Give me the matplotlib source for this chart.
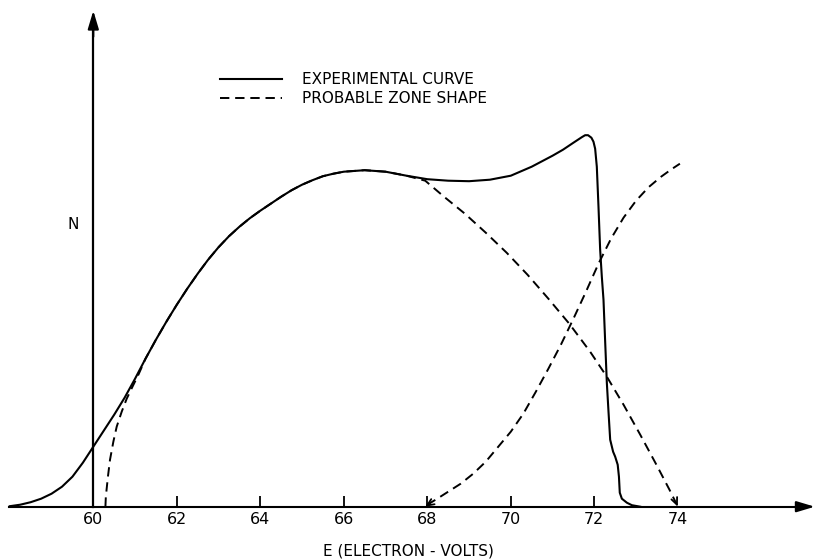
import numpy as np
import matplotlib.pyplot as plt

# experimental curve (E in eV, N in arbitrary units)
energy_exp = [58.0, 58.25, 58.5, 58.75, 59.0, 59.25, 59.5, 59.75, 60.0, 60.25, 60.5, 60.75,
              61.0, 61.25, 61.5, 61.75, 62.0, 62.25, 62.5, 62.75, 63.0, 63.25, 63.5, 63.75,
              64.0, 64.25, 64.5, 64.75, 65.0, 65.25, 65.5, 65.75, 66.0, 66.5, 67.0, 67.5,
              68.0, 68.5, 69.0, 69.5, 70.0, 70.5, 71.0, 71.25, 71.5, 71.7, 71.78, 71.85,
              71.93, 71.98, 72.02, 72.06, 72.10, 72.14, 72.18, 72.22, 72.26, 72.30, 72.34,
              72.38, 72.45, 72.5, 72.56, 72.59, 72.61, 72.66, 72.78, 72.9, 73.1]
n_exp = [0.5, 2, 4.5, 8, 13, 20, 30, 44, 60, 76, 92, 109,
         128, 148, 167, 185, 202, 218, 233, 247, 259.5, 270.5, 280, 288.5,
         296, 303, 310, 316.5, 322, 326.5, 330.5, 333, 335, 336.5, 335, 331,
         327.5, 326, 325.5, 327, 331, 340, 351, 357, 364, 369.5, 371.5, 371.5,
         369, 365, 358, 340, 300, 257, 230, 207, 165, 124, 95,
         67, 55, 50, 42, 30, 14, 8, 4, 1.5, 0]

# probable zone shapes
energy_zone1 = [60.29, 60.3, 60.35, 60.4, 60.48, 60.56, 60.68, 60.8, 60.95, 61.08,
                61.25, 61.5, 61.75, 62.0, 62.25, 62.5, 62.75, 63.0, 63.25, 63.5, 63.75,
                64.0, 64.25, 64.5, 64.75, 65.0, 65.25, 65.5, 65.75, 66.0, 66.5, 67.0,
                67.5, 67.95, 68.4, 68.9, 69.4, 69.9, 70.4, 70.9, 71.4, 71.9, 72.3, 72.7,
                73.1, 73.5, 73.8, 73.96]
n_zone1 = [0, 10, 30, 47, 65, 80, 95, 108, 121, 132,
           148, 167, 185, 202, 218, 233, 247, 259.5, 270.5, 280, 288.5,
           296, 303, 310, 316.5, 322, 326.5, 330.5, 333, 335, 336.5, 335,
           331, 326, 310, 293, 274, 254, 232, 208, 183, 155, 130, 102,
           72, 41, 17, 3.5]

energy_zone2 = [68.0, 68.2, 68.5, 68.8, 69.1, 69.4, 69.7, 70.0, 70.3, 70.6, 70.9, 71.2,
                71.5, 71.8, 72.1, 72.4, 72.7, 73.0, 73.3, 73.6, 73.85, 74.05]
n_zone2 = [2, 7, 15, 23, 33, 45, 60, 75, 93, 115, 138, 162,
           188, 215, 243, 268, 289, 306, 319.5, 330, 337.5, 343]

xticks = [60, 62, 64, 66, 68, 70, 72, 74]

fig = plt.figure(figsize=(8.15, 5.6), dpi=100)
ax = fig.add_axes([0, 0, 1, 1])
ax.set_xlim(57.765, 77.286)
ax.set_ylim(-53.3, 506.7)

dash = (0, (4.8, 3))
ax.plot(energy_exp, n_exp, color='black', lw=1.5, label='EXPERIMENTAL CURVE')
ax.plot(energy_zone1, n_zone1, color='black', lw=1.4, linestyle=dash,
        label='PROBABLE ZONE SHAPE')
ax.plot(energy_zone2, n_zone2, color='black', lw=1.4, linestyle=dash)

# small arrow heads at the ends of the zone curves
arrow = dict(arrowstyle='->,head_length=0.5,head_width=0.22', color='black', lw=1.3,
             shrinkA=0, shrinkB=0)
ax.annotate('', xy=(74.0, 0), xytext=(73.96, 4), arrowprops=arrow)
ax.annotate('', xy=(67.95, 0), xytext=(68.06, 3), arrowprops=arrow)

# axes drawn like the hand-drawn original
for s in ['top', 'right']:
    ax.spines[s].set_visible(False)
ax.spines['left'].set_position(('data', 60))
ax.spines['bottom'].set_position(('data', 0))
ax.spines['left'].set_bounds(0, 480)
ax.spines['bottom'].set_bounds(57.97, 77.0)
ax.spines['left'].set_linewidth(1.6)
ax.spines['bottom'].set_linewidth(1.5)

head = dict(arrowstyle='-|>,head_length=1.1,head_width=0.33', color='black', lw=1.5,
            shrinkA=0, shrinkB=0)
ax.annotate('', xy=(60, 496), xytext=(60, 470), arrowprops=head)
ax.annotate('', xy=(77.28, 0), xytext=(76.9, 0), arrowprops=head, annotation_clip=False)

ax.set_yticks([])
ax.set_xticks(xticks)
ax.set_xticklabels([str(t) for t in xticks])
ax.tick_params(axis='x', direction='in', length=7.8, width=1.3, pad=4, labelsize=11.5)
for t, tick in zip(xticks, ax.xaxis.get_major_ticks()):
    if t in (60, 74):
        tick.tick1line.set_visible(False)

ax.set_xlabel('E (ELECTRON - VOLTS)', fontsize=11)
ax.xaxis.set_label_coords(67.54, -44.5, transform=ax.transData)
ax.xaxis.label.set_va('center')
ax.set_ylabel('N', fontsize=11, rotation=0, ha='center', va='center')
ax.yaxis.set_label_coords(59.51, 282, transform=ax.transData)

ax.legend(loc='upper left', bbox_to_anchor=(220 / 815, 1 - 72 / 560), frameon=False,
          fontsize=11, handlelength=4.05, handletextpad=1.3, labelspacing=0.27,
          borderpad=0, borderaxespad=0)

fig.savefig('out.png', dpi=100)
